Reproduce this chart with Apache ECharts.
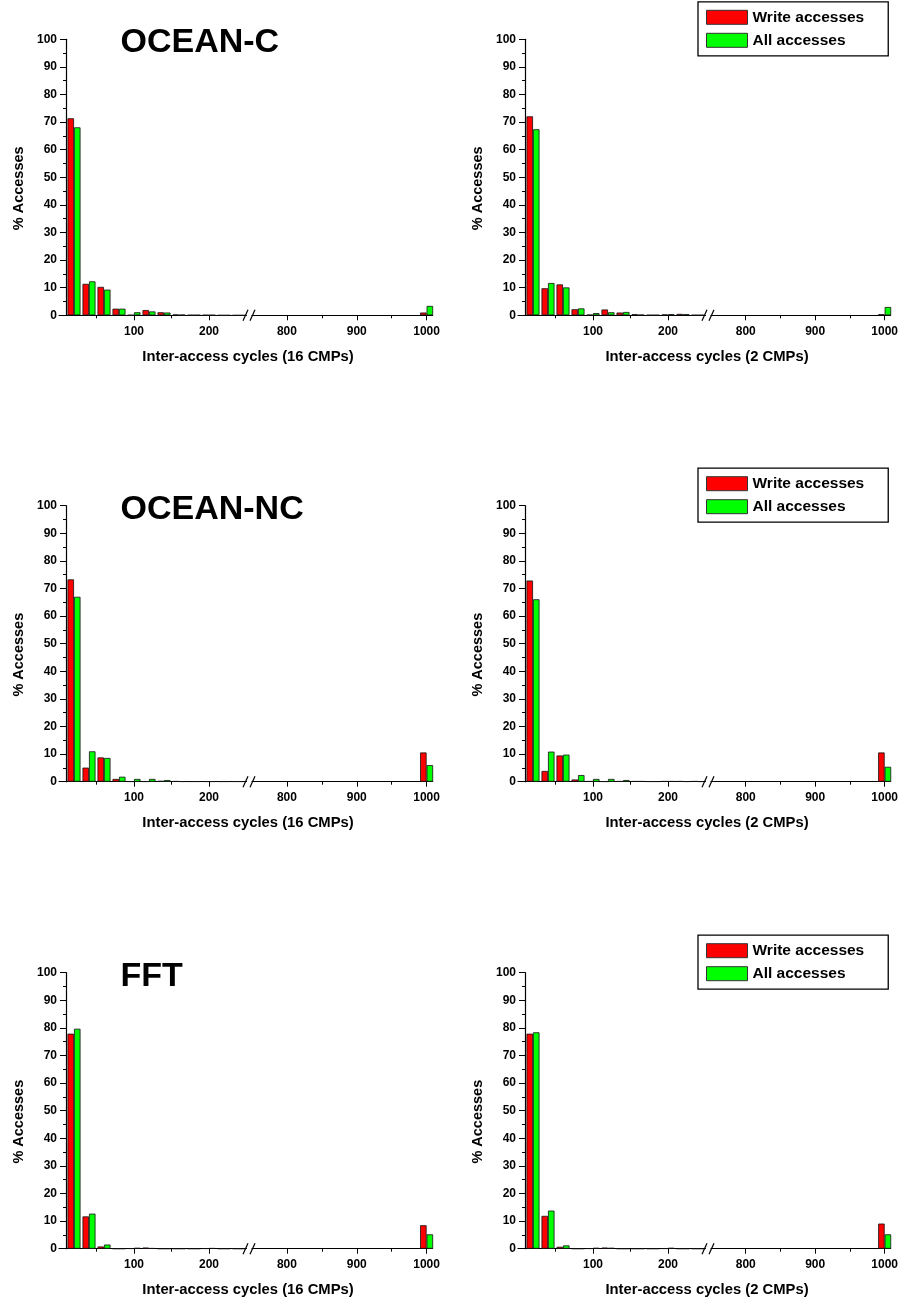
<!DOCTYPE html>
<html><head><meta charset="utf-8">
<script src="https://cdn.jsdelivr.net/npm/echarts@6/dist/echarts.min.js"></script>
<style>html,body{margin:0;padding:0;background:#fff}#c{width:901px;height:1302px}</style>
</head><body><div id="c"></div>
<script>
// ---------- data ----------
const bins = [20, 40, 60, 80, 100, 120, 140, 160, 180, 200, 220, 240];
const tailBin = [1000];
const xLabelsLeft = [100, 200];
const xMinorLeft = [50, 150];
const xLabelsRight = [800, 900, 1000];
const xMinorRight = [850, 950];
const seriesNames = ['Write accesses', 'All accesses'];
const panelTitles = ['OCEAN-C', 'OCEAN-NC', 'FFT'];
const xTitles = ['Inter-access cycles (16 CMPs)', 'Inter-access cycles (2 CMPs)'];
const yTitle = '% Accesses';

const oceanC16Write = [71.4, 11.4, 10.3, 2.4, 0.1, 1.9, 1.1, 0.3, 0.1, 0.1, 0, 0];
const oceanC16All   = [68.1, 12.3, 9.3, 2.4, 1.1, 1.4, 1.0, 0.2, 0.1, 0.1, 0, 0];
const oceanC16Tail  = [1.0, 3.4];
const oceanC2Write  = [72.1, 9.8, 11.2, 2.2, 0.2, 2.1, 1.0, 0.4, 0.1, 0.3, 0.5, 0.1];
const oceanC2All    = [67.4, 11.7, 10.1, 2.5, 0.8, 1.1, 1.2, 0.2, 0.1, 0.4, 0.4, 0.1];
const oceanC2Tail   = [0.4, 3.0];
const oceanNC16Write = [73.3, 5.1, 8.8, 1.0, 0.1, 0.1, 0.3, 0.2, 0.1, 0.1, 0.1, 0.1];
const oceanNC16All   = [67.0, 11.0, 8.6, 1.8, 1.0, 1.0, 0.6, 0.1, 0.1, 0.1, 0.1, 0.1];
const oceanNC16Tail  = [10.6, 6.0];
const oceanNC2Write  = [72.9, 3.9, 9.5, 0.8, 0.2, 0.1, 0.2, 0.2, 0.1, 0.2, 0.2, 0.2];
const oceanNC2All    = [66.1, 10.9, 9.8, 2.4, 1.0, 1.0, 0.6, 0.2, 0.1, 0.2, 0.1, 0.1];
const oceanNC2Tail   = [10.6, 5.4];
const fft16Write = [77.9, 11.7, 0.8, 0, 0.1, 0.4, 0, 0, 0, 0.1, 0, 0];
const fft16All   = [79.7, 12.7, 1.5, 0, 0.3, 0.2, 0, 0, 0, 0.2, 0, 0];
const fft16Tail  = [8.5, 5.2];
const fft2Write  = [77.9, 11.9, 0.7, 0, 0.1, 0.4, 0, 0, 0, 0.1, 0, 0];
const fft2All    = [78.4, 13.8, 1.2, 0, 0.3, 0.3, 0, 0, 0, 0.3, 0, 0];
const fft2Tail   = [9.1, 5.2];

const panels = [
  {row: 0, col: 0, write: oceanC16Write, all: oceanC16All, tail: oceanC16Tail},
  {row: 0, col: 1, write: oceanC2Write, all: oceanC2All, tail: oceanC2Tail},
  {row: 1, col: 0, write: oceanNC16Write, all: oceanNC16All, tail: oceanNC16Tail},
  {row: 1, col: 1, write: oceanNC2Write, all: oceanNC2All, tail: oceanNC2Tail},
  {row: 2, col: 0, write: fft16Write, all: fft16All, tail: fft16Tail},
  {row: 2, col: 1, write: fft2Write, all: fft2All, tail: fft2Tail}
];

// ---------- layout / style ----------
const FONT = '"Liberation Sans", Arial, sans-serif';
const colX = [0, 459];
const rowTop = [39.3, 505.7, 972.7];
const H = 276;
const RED = '#ff0000', GREEN = '#00ff00';

const grid = [], xAxis = [], yAxis = [], series = [], title = [], legend = [], graphic = [];
const axisLineStyle = {color: '#000', width: 1.2};
const plain = v => String(v);

panels.forEach((p, i) => {
  const cx = colX[p.col], top = rowTop[p.row];
  const gL = grid.length;
  grid.push({left: 59 + cx, top: top, width: 187.5, height: H});
  grid.push({left: 252 + cx, top: top, width: 180.6, height: H});
  const xa = xAxis.length;
  const baseX = (gi, min, max, labels, minor) => [
    {type: 'value', gridIndex: gi, min: min, max: max, position: 'bottom',
     axisLine: {show: true, onZero: false, lineStyle: axisLineStyle},
     axisTick: {show: true, customValues: labels, length: 5, lineStyle: {color: '#000', width: 1}},
     axisLabel: {show: true, customValues: labels, formatter: plain, fontFamily: FONT, fontWeight: 'bold', fontSize: 12, color: '#000', margin: 10},
     splitLine: {show: false}},
    {type: 'value', gridIndex: gi, min: min, max: max, position: 'bottom',
     axisLine: {show: false, onZero: false},
     axisTick: {show: true, customValues: minor, length: 3, lineStyle: {color: '#000', width: 1}},
     axisLabel: {show: false}, splitLine: {show: false}}
  ];
  xAxis.push(...baseX(gL, 0, 250, xLabelsLeft, xMinorLeft));
  xAxis.push(...baseX(gL + 1, 750, 1008.6, xLabelsRight, xMinorRight));
  const ya = yAxis.length;
  yAxis.push({type: 'value', gridIndex: gL, min: 0, max: 100, interval: 10, offset: -7,
    name: yTitle, nameLocation: 'middle', nameGap: 40,
    nameTextStyle: {fontFamily: FONT, fontWeight: 'bold', fontSize: 14.5, color: '#000', padding: [0, 22, 0, 0]},
    axisLine: {show: true, onZero: false, lineStyle: axisLineStyle},
    axisTick: {show: true, length: 6, lineStyle: {color: '#000', width: 1}},
    minorTick: {show: true, splitNumber: 2, length: 3, lineStyle: {color: '#000', width: 1}},
    axisLabel: {formatter: plain, fontFamily: FONT, fontWeight: 'bold', fontSize: 12, color: '#000', margin: 9},
    splitLine: {show: false}});
  yAxis.push({type: 'value', gridIndex: gL + 1, min: 0, max: 100, show: false});

  const barStyle = c => ({color: c, borderColor: '#111', borderWidth: 0.8});
  const mk = (name, color, xi, yi, data) => ({
    type: 'bar', name: name, xAxisIndex: xi, yAxisIndex: yi, data: data,
    barWidth: 6.5, barGap: '0%', itemStyle: barStyle(color), silent: true
  });
  series.push(mk(seriesNames[0], RED, xa, ya, bins.map((b, k) => [b, p.write[k]])));
  series.push(mk(seriesNames[1], GREEN, xa, ya, bins.map((b, k) => [b, p.all[k]])));
  series.push(mk(seriesNames[0], RED, xa + 2, ya + 1, tailBin.map(b => [b, p.tail[0]])));
  series.push(mk(seriesNames[1], GREEN, xa + 2, ya + 1, tailBin.map(b => [b, p.tail[1]])));

  // x axis title
  title.push({text: xTitles[p.col], left: 248 + cx, top: top + H + 33.5, textAlign: 'center', padding: 0,
    textStyle: {fontFamily: FONT, fontWeight: 'bold', fontSize: 14.8, color: '#000', lineHeight: 16}});
  if (p.col === 0) {
    title.push({text: panelTitles[p.row], left: 120.5, top: top - 13.5, padding: 0,
      textStyle: {fontFamily: FONT, fontWeight: 'bold', fontSize: 34, color: '#000', lineHeight: 34}});
  } else {
    legend.push({data: seriesNames, orient: 'vertical', left: 698, top: top - 37.5,
      itemWidth: 41, itemHeight: 14, itemGap: 7, padding: [7.5, 24, 7.5, 8],
      borderColor: '#000', borderWidth: 1.3, backgroundColor: '#fff', icon: 'rect',
      selectedMode: false,
      itemStyle: {borderColor: '#333', borderWidth: 1},
      textStyle: {fontFamily: FONT, fontWeight: 'bold', fontSize: 15.5, color: '#000', lineHeight: 14}});
  }
  // axis break marks "//"
  const ay = top + H;
  [243, 250].forEach(x0 => {
    graphic.push({type: 'line', z: 100,
      shape: {x1: cx + x0, y1: ay + 5.5, x2: cx + x0 + 5, y2: ay - 5.5},
      style: {stroke: '#000', lineWidth: 1.2}});
  });
});

const chart = echarts.init(document.getElementById('c'), null, {renderer: 'canvas'});
chart.setOption({animation: false, backgroundColor: '#fff',
  title, legend, grid, xAxis, yAxis, series, graphic});
</script></body></html>
